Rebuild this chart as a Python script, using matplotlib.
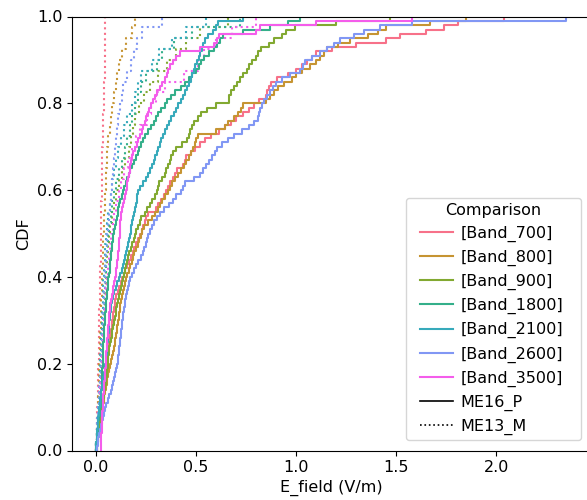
import matplotlib
matplotlib.use("Agg")
import numpy as np
import matplotlib.pyplot as plt
from matplotlib.lines import Line2D
from matplotlib.legend_handler import HandlerLine2D
import seaborn as sns

plt.rcParams['font.family'] = ['DejaVu Sans']
plt.rcParams['font.size'] = 11.5

bands = ['[Band_700]', '[Band_800]', '[Band_900]', '[Band_1800]',
         '[Band_2100]', '[Band_2600]', '[Band_3500]']
sources = ['ME16_P', 'ME13_M']

# ME16_P (solid) E-field samples, V/m
me16_700 = [.006, .008, .010, .012, .015, .018, .021, .024, .027, .031,
            .034, .038, .041, .043, .045, .047, .049, .051, .053, .055,
            .057, .059, .062, .065, .068, .071, .074, .077, .080, .083,
            .086, .089, .092, .095, .099, .104, .110, .118, .126, .133,
            .140, .148, .156, .166, .176, .185, .194, .203, .214, .223,
            .231, .239, .246, .252, .262, .300, .312, .325, .340, .350,
            .360, .372, .385, .395, .405, .438, .445, .452, .475, .496,
            .520, .545, .575, .615, .646, .675, .700, .735, .765, .790,
            .815, .850, .858, .866, .875, .905, .960, 1.00, 1.03, 1.055,
            1.08, 1.10, 1.18, 1.30, 1.45, 1.52, 1.65, 1.74, 1.81, 2.04]
me16_800 = [.006, .009, .012, .015, .018, .021, .024, .027, .030, .033,
            .037, .040, .044, .048, .051, .055, .059, .063, .068, .073,
            .077, .082, .087, .091, .095, .099, .103, .106, .109, .112,
            .115, .118, .121, .124, .127, .131, .137, .143, .148, .152,
            .159, .166, .173, .180, .187, .194, .202, .210, .218, .226,
            .234, .242, .260, .280, .298, .310, .322, .334, .347, .360,
            .372, .384, .397, .410, .428, .440, .452, .465, .478, .488,
            .495, .502, .512, .600, .645, .662, .690, .710, .725, .738,
            .850, .870, .890, .910, .940, .980, 1.00, 1.03, 1.07, 1.10,
            1.12, 1.14, 1.155, 1.21, 1.27, 1.36, 1.41, 1.45, 1.67, 1.85]
me16_900 = [.006, .008, .011, .013, .016, .019, .022, .025, .028, .031,
            .034, .038, .041, .044, .047, .050, .053, .055, .058, .060,
            .062, .064, .066, .069, .072, .076, .080, .084, .088, .092,
            .096, .100, .104, .108, .113, .118, .123, .128, .132, .137,
            .142, .147, .153, .159, .164, .169, .176, .183, .190, .197,
            .204, .212, .220, .229, .245, .258, .270, .282, .295, .305,
            .310, .318, .330, .345, .352, .360, .370, .378, .388, .400,
            .432, .458, .465, .472, .480, .492, .510, .525, .555, .600,
            .665, .668, .675, .690, .705, .720, .738, .755, .765, .780,
            .800, .810, .825, .865, .890, .930, .950, .995, 1.20, 1.47]
me16_1800 = [.002, .004, .006, .008, .010, .012, .014, .017, .020, .023,
             .025, .027, .028, .029, .030, .031, .032, .033, .034, .035,
             .035, .036, .037, .038, .039, .040, .041, .043, .044, .046,
             .047, .049, .051, .052, .054, .056, .058, .060, .062, .064,
             .067, .070, .072, .074, .076, .078, .080, .082, .085, .087,
             .091, .095, .100, .105, .110, .114, .118, .122, .130, .137,
             .143, .150, .158, .166, .172, .182, .192, .202, .210, .218,
             .228, .238, .248, .262, .275, .290, .302, .313, .328, .345,
             .355, .375, .395, .425, .445, .465, .480, .500, .515, .528,
             .542, .565, .590, .605, .620, .638, .738, .870, .960, 1.02]
me16_2100 = [.003, .004, .006, .008, .009, .011, .012, .014, .016, .018,
             .020, .023, .026, .029, .032, .035, .038, .041, .045, .048,
             .051, .053, .055, .057, .059, .061, .063, .065, .067, .069,
             .071, .073, .075, .077, .080, .085, .092, .100, .108, .116,
             .124, .132, .139, .144, .149, .154, .159, .163, .167, .171,
             .175, .179, .183, .187, .191, .195, .200, .205, .209, .214,
             .224, .236, .250, .262, .272, .283, .291, .298, .305, .312,
             .320, .328, .335, .345, .355, .366, .378, .390, .402, .413,
             .425, .437, .448, .458, .466, .474, .482, .490, .498, .506,
             .515, .523, .530, .538, .547, .560, .588, .600, .613, .738]
me16_2600 = [.006, .010, .014, .018, .022, .026, .030, .035, .040, .045,
             .050, .060, .069, .076, .082, .088, .093, .098, .103, .107,
             .110, .113, .115, .118, .120, .123, .125, .128, .130, .133,
             .136, .139, .142, .145, .147, .151, .155, .160, .165, .170,
             .180, .191, .203, .214, .226, .237, .244, .252, .258, .264,
             .272, .282, .293, .305, .320, .342, .365, .385, .400, .425,
             .438, .448, .490, .520, .535, .550, .565, .580, .595, .605,
             .630, .660, .690, .730, .765, .790, .810, .818, .822, .830,
             .840, .855, .870, .885, .900, .930, .970, 1.02, 1.035, 1.045,
             1.08, 1.12, 1.155, 1.19, 1.22, 1.29, 1.34, 1.42, 1.58, 2.35]
me16_3500 = [.027, .028, .029, .029, .030, .031, .032, .033, .034, .035,
             .036, .038, .039, .040, .042, .043, .045, .046, .048, .050,
             .051, .053, .054, .056, .057, .059, .060, .062, .064, .065,
             .067, .069, .071, .073, .077, .081, .085, .089, .093, .097,
             .100, .103, .106, .109, .111, .113, .115, .117, .118, .120,
             .121, .122, .124, .126, .129, .133, .138, .143, .148, .152,
             .155, .158, .162, .166, .170, .174, .178, .182, .188, .196,
             .205, .214, .222, .230, .238, .246, .254, .261, .268, .276,
             .285, .297, .308, .320, .332, .345, .355, .364, .372, .385,
             .400, .420, .520, .590, .605, .615, .800, .820, 1.10, 1.58]

# ME13_M (dotted) E-field samples, V/m
me13_700 = [.003, .005, .007, .009, .011, .012, .013, .014, .015, .016,
            .017, .018, .019, .021, .022, .023, .024, .025, .026, .026,
            .027, .028, .029, .030, .030, .031, .032, .033, .035, .037,
            .039, .041, .043, .044, .045, .045, .046, .046, .047, .047]
me13_800 = [.004, .007, .010, .012, .014, .016, .018, .019, .021, .022,
            .024, .025, .027, .029, .030, .032, .034, .036, .038, .039,
            .041, .044, .046, .048, .050, .052, .055, .059, .064, .070,
            .076, .083, .094, .104, .109, .118, .134, .150, .180, .198]
me13_900 = [.004, .008, .012, .016, .019, .022, .025, .028, .031, .033,
            .036, .038, .041, .045, .048, .051, .054, .058, .062, .067,
            .073, .080, .090, .102, .116, .130, .148, .165, .176, .185,
            .196, .218, .240, .270, .310, .355, .400, .450, .520, .660]
me13_1800 = [.003, .007, .011, .015, .017, .020, .023, .025, .028, .030,
             .032, .034, .037, .040, .043, .046, .050, .053, .058, .063,
             .068, .075, .082, .092, .103, .115, .132, .145, .158, .170,
             .182, .197, .211, .228, .250, .305, .333, .390, .480, .720]
me13_2100 = [.003, .006, .009, .013, .015, .017, .020, .022, .024, .026,
             .028, .030, .032, .035, .037, .039, .042, .045, .049, .053,
             .058, .064, .070, .077, .084, .092, .100, .110, .125, .141,
             .158, .180, .195, .210, .226, .280, .315, .380, .450, .550]
me13_2600 = [.003, .006, .009, .013, .016, .019, .022, .025, .027, .030,
             .032, .035, .037, .040, .042, .045, .048, .051, .055, .058,
             .062, .066, .070, .075, .080, .085, .090, .095, .100, .107,
             .114, .121, .130, .139, .157, .178, .192, .205, .232, .330]
me13_3500 = [.004, .009, .014, .018, .021, .024, .027, .030, .033, .036,
             .039, .042, .046, .050, .053, .057, .061, .066, .072, .078,
             .085, .094, .104, .115, .128, .143, .163, .182, .200, .224,
             .255, .275, .300, .345, .440, .510, .540, .600, .680, .800]

solid_sets = [me16_700, me16_800, me16_900, me16_1800, me16_2100, me16_2600, me16_3500]
dotted_sets = [me13_700, me13_800, me13_900, me13_1800, me13_2100, me13_2600, me13_3500]

palette = sns.color_palette('husl', len(bands))


class LeadHandler(HandlerLine2D):
    """Line handle that leaves a small gap before the line."""
    def __init__(self, lead_frac, **kw):
        super().__init__(**kw)
        self.lead_frac = lead_frac

    def get_xdata(self, legend, xdescent, ydescent, width, height, fontsize):
        lead = self.lead_frac * fontsize
        x = np.array([-xdescent + lead, -xdescent + width])
        return x, np.array([x.mean()])


fig = plt.figure(figsize=(5.87, 5.0), dpi=100)
ax = fig.add_axes([72 / 587, 49.5 / 500, (590 - 72) / 587, 434 / 500])

for vals, col in zip(dotted_sets, palette):
    sns.ecdfplot(x=vals, ax=ax, color=col, linestyle=':', linewidth=1.5)
for vals, col in zip(solid_sets, palette):
    sns.ecdfplot(x=vals, ax=ax, color=col, linestyle='-', linewidth=1.5)

ax.set_xlim(-0.1175, 2.4675)
ax.set_ylim(0, 1)
ax.set_xticks([0.0, 0.5, 1.0, 1.5, 2.0])
ax.set_yticks([0.0, 0.2, 0.4, 0.6, 0.8, 1.0])
ax.set_xlabel('E_field (V/m)', labelpad=3)
ax.set_ylabel('CDF')

handles = [Line2D([], [], color=c, lw=1.5) for c in palette]
handles += [Line2D([], [], color='black', lw=1.2, linestyle='-'),
            Line2D([], [], color='black', lw=1.2, linestyle=':')]
labels = bands + sources
leg_x0 = (406 - 72) / 518
leg_w = (581 - 406) / 518
leg_y0 = (450.5 - 440) / 434
ax.legend(handles, labels, title='Comparison', loc='lower left',
          bbox_to_anchor=(leg_x0, leg_y0, leg_w, 0.5), mode='expand',
          borderaxespad=0, borderpad=0.3, labelspacing=0.5,
          handlelength=2.64, handletextpad=0.45,
          fontsize=11.5, title_fontsize=11.5,
          handler_map={Line2D: LeadHandler(0.58)})

fig.savefig('out.png', dpi=100)
